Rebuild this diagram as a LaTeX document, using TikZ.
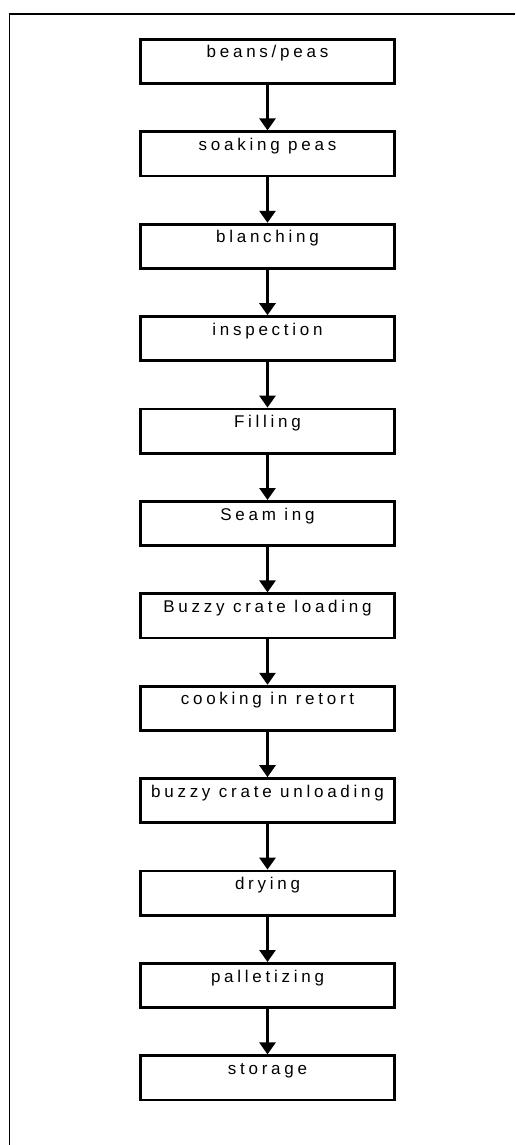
\documentclass[tikz,border=0pt]{standalone}
\usepackage{fontspec}
\setmainfont[LetterSpace=22]{Liberation Sans}
\usetikzlibrary{arrows.meta, positioning}
\tikzset{process/.style={draw, line width=2.8pt, minimum width=254.5pt, inner sep=0pt,
    text height=18.6pt, text depth=25.6pt, font=\fontsize{17}{20}\selectfont}}

\begin{document}
\begin{tikzpicture}[node distance=45.4pt, >={Triangle[width=16pt,length=12pt]}]
            \useasboundingbox (0,0) rectangle (515pt,-1145pt);
            % frame
            \draw[line width=1.8pt] (515pt,-14pt) -- (9.5pt,-14pt) -- (9.5pt,-1145pt);
            \node[process, anchor=north] (beans_peas) at (267.5pt,-38pt) {beans/peas};
            \node[process, below=of beans_peas] (soaking_peas) {soaking peas};
            \node[process, below=of soaking_peas] (blanching) {blanching};
            \node[process, below=of blanching] (inspection) {inspection};
            \node[process, below=of inspection] (filling) {Filling};
            \node[process, below=of filling] (seaming) {Seam ing};
            \node[process, below=of seaming] (crate_loading) {Buzzy crate loading};
            \node[process, below=of crate_loading] (cooking) {cooking in retort};
            \node[process, below=of cooking] (crate_unloading) {buzzy crate unloading};
            \node[process, below=of crate_unloading] (drying) {drying};
            \node[process, below=of drying] (palletizing) {palletizing};
            \node[process, below=of palletizing] (storage) {storage};
            \draw[line width=2.8pt] (beans_peas) edge[->] (soaking_peas)
            (soaking_peas) edge[->] (blanching)
            (blanching) edge[->] (inspection)
            (inspection) edge[->] (filling)
            (filling) edge[->] (seaming)
            (seaming) edge[->] (crate_loading)
            (crate_loading) edge[->] (cooking)
            (cooking) edge[->] (crate_unloading)
            (crate_unloading) edge[->] (drying)
            (drying) edge[->] (palletizing)
            (palletizing) edge[->] (storage);
      \end{tikzpicture}
\end{document}
